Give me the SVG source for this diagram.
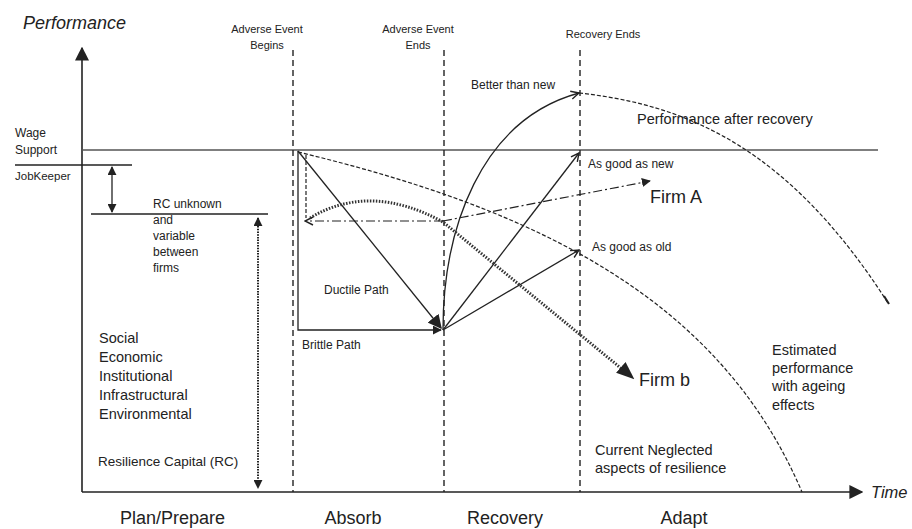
<svg xmlns="http://www.w3.org/2000/svg" width="912" height="529" viewBox="0 0 912 529">
<defs>
<style>
text{font-family:"Liberation Sans",Arial,sans-serif;fill:#222}
.s11{font-size:11px}.s12{font-size:12px}.s13{font-size:13.5px}.s14{font-size:14.5px}.s18{font-size:18px}
.it{font-style:italic}
.ax{stroke:#222;stroke-width:1.6;fill:none}
.ln{stroke:#222;stroke-width:1.3;fill:none}
.vd{stroke:#222;stroke-width:1.4;stroke-dasharray:6,4;fill:none}
.dsh{stroke:#222;stroke-width:1.2;stroke-dasharray:4,2;fill:none}
.dd{stroke:#222;stroke-width:1.2;stroke-dasharray:9,3,2,3;fill:none}
.dot{stroke:#333;stroke-width:3;stroke-dasharray:1.5,1.5;fill:none}
.dotv{stroke:#222;stroke-width:2;stroke-dasharray:1.5,1.2;fill:none}
</style>
<marker id="fa" viewBox="0 0 10 10" refX="9" refY="5" markerWidth="9" markerHeight="9" markerUnits="userSpaceOnUse" orient="auto-start-reverse"><path d="M0,0L10,5L0,10z" fill="#222"/></marker>
<marker id="fb" viewBox="0 0 10 10" refX="9" refY="5" markerWidth="14" markerHeight="14" markerUnits="userSpaceOnUse" orient="auto"><path d="M0,0L10,5L0,10z" fill="#222"/></marker>
<marker id="fl" viewBox="0 0 10 10" refX="9" refY="5" markerWidth="18" markerHeight="18" markerUnits="userSpaceOnUse" orient="auto"><path d="M0,1L10,5L0,9z" fill="#222"/></marker>
<marker id="oa" viewBox="0 0 10 10" refX="9" refY="5" markerWidth="10" markerHeight="10" markerUnits="userSpaceOnUse" orient="auto-start-reverse"><path d="M1,1L9,5L1,9" fill="none" stroke="#222" stroke-width="1.4"/></marker>
</defs>
<rect width="912" height="529" fill="#fff"/>

<g id="connectors">
<line class="ax" x1="82" y1="492" x2="82" y2="48" marker-end="url(#fb)"/>
<line class="ax" x1="82" y1="492" x2="862" y2="492" marker-end="url(#fb)"/>
<line x1="82" y1="150" x2="878" y2="150" stroke="#555" stroke-width="1.6"/>
<line class="ln" x1="15" y1="165" x2="132" y2="165"/>
<line class="ln" x1="91" y1="214" x2="268" y2="214"/>
<line class="ln" x1="112" y1="167" x2="112" y2="212" marker-start="url(#fa)" marker-end="url(#fa)"/>
<line class="dotv" x1="258" y1="218" x2="258" y2="488" marker-start="url(#fa)" marker-end="url(#fa)"/>
<line class="vd" x1="293" y1="50" x2="293" y2="492"/>
<line class="vd" x1="444" y1="50" x2="444" y2="492"/>
<line class="vd" x1="580" y1="50" x2="580" y2="492"/>
<path class="ln" d="M298,151 L298,330 L441,330" marker-end="url(#fa)"/>
<line class="ln" x1="298" y1="151" x2="441" y2="328" marker-end="url(#fb)"/>
<line class="ln" x1="443" y1="330" x2="579" y2="153" marker-end="url(#oa)"/>
<line class="ln" x1="443" y1="330" x2="579" y2="250" marker-end="url(#oa)"/>
<path class="ln" d="M443,330 C443,230 480,120 579,93" marker-end="url(#oa)"/>
<path class="dsh" d="M579,93 C690,105 790,150 888,303"/>
<line x1="884" y1="296" x2="889" y2="304" stroke="#222" stroke-width="2"/>
<path class="dsh" d="M298,152 C540,210 720,300 802,492"/>
<line class="dsh" x1="306" y1="155" x2="306" y2="218"/>
<line class="dd" x1="443" y1="221" x2="305" y2="221" marker-end="url(#oa)"/>
<line class="dd" x1="443" y1="221" x2="650" y2="181" marker-end="url(#fa)"/>
<path class="dot" d="M310,218 Q370,182 443,222 L628,374"/>
<line x1="625" y1="371" x2="633" y2="378" stroke="#222" stroke-width="1" marker-end="url(#fl)"/>
</g>

<g id="lbl-performance"><text class="s18 it" x="23" y="29">Performance</text></g>
<g id="lbl-time"><text class="it" style="font-size:16.5px" x="871" y="498">Time</text></g>
<g id="lbl-ae-begins"><text class="s11" text-anchor="middle"><tspan x="267" y="33">Adverse Event</tspan><tspan x="267" y="49">Begins</tspan></text></g>
<g id="lbl-ae-ends"><text class="s11" text-anchor="middle"><tspan x="418" y="33">Adverse Event</tspan><tspan x="418" y="49">Ends</tspan></text></g>
<g id="lbl-recovery-ends"><text class="s11" text-anchor="middle" x="603" y="38">Recovery Ends</text></g>
<g id="lbl-wage"><text class="s12"><tspan x="15" y="137">Wage</tspan><tspan x="15" y="154">Support</tspan></text></g>
<g id="lbl-jobkeeper"><text style="font-size:11.5px" x="15" y="180">JobKeeper</text></g>
<g id="lbl-rc-unknown"><text class="s12"><tspan x="153" y="208">RC unknown</tspan><tspan x="153" y="224">and</tspan><tspan x="153" y="240">variable</tspan><tspan x="153" y="256">between</tspan><tspan x="153" y="272">firms</tspan></text></g>
<g id="lbl-capitals"><text class="s14"><tspan x="99" y="343">Social</tspan><tspan x="99" y="362">Economic</tspan><tspan x="99" y="381">Institutional</tspan><tspan x="99" y="400">Infrastructural</tspan><tspan x="99" y="419">Environmental</tspan></text></g>
<g id="lbl-rc"><text class="s13" x="98" y="466">Resilience Capital (RC)</text></g>
<g id="lbl-better"><text class="s12" x="471" y="89">Better than new</text></g>
<g id="lbl-good-new"><text class="s12" x="588" y="168">As good as new</text></g>
<g id="lbl-good-old"><text class="s12" x="592" y="251">As good as old</text></g>
<g id="lbl-perf-after"><text class="s14" x="637" y="124">Performance after recovery</text></g>
<g id="lbl-firm-a"><text class="s18" x="650" y="203">Firm A</text></g>
<g id="lbl-firm-b"><text class="s18" x="639" y="386">Firm b</text></g>
<g id="lbl-ductile"><text class="s12" x="324" y="294">Ductile Path</text></g>
<g id="lbl-brittle"><text class="s12" x="302" y="349">Brittle Path</text></g>
<g id="lbl-neglected"><text class="s14"><tspan x="595" y="455">Current Neglected</tspan><tspan x="595" y="473">aspects of resilience</tspan></text></g>
<g id="lbl-estimated"><text class="s14"><tspan x="772" y="355">Estimated</tspan><tspan x="772" y="373">performance</tspan><tspan x="772" y="391">with ageing</tspan><tspan x="772" y="410">effects</tspan></text></g>
<g id="lbl-plan"><text class="s18" x="120" y="524">Plan/Prepare</text></g>
<g id="lbl-absorb"><text class="s18" text-anchor="middle" x="353" y="524">Absorb</text></g>
<g id="lbl-recovery"><text class="s18" text-anchor="middle" x="505" y="524">Recovery</text></g>
<g id="lbl-adapt"><text class="s18" text-anchor="middle" x="684" y="524">Adapt</text></g>
</svg>
